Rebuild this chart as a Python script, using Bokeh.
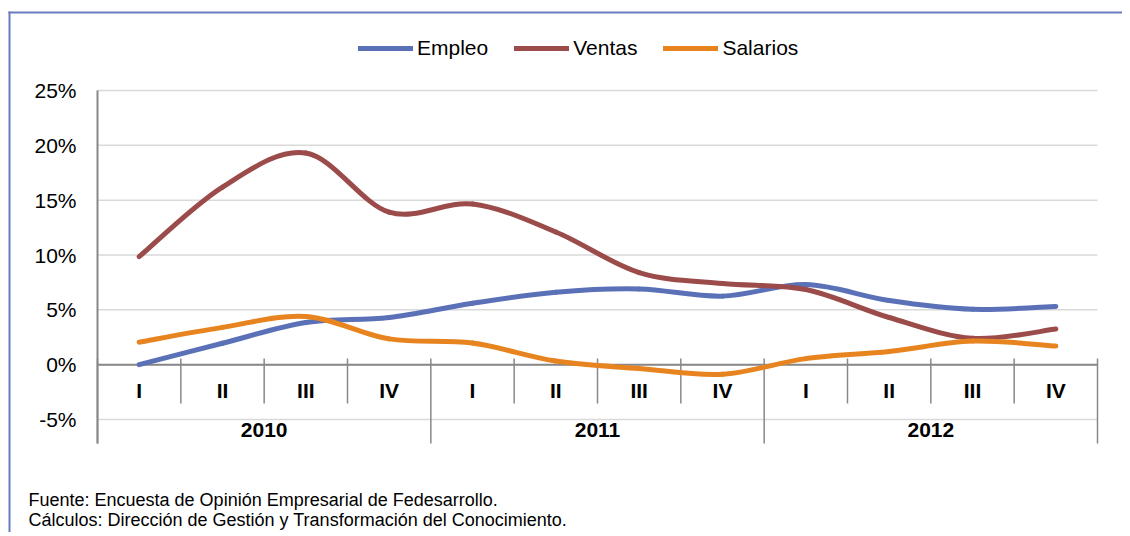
from bokeh.plotting import figure
from bokeh.models import Legend, LegendItem, BoxAnnotation
from bokeh.embed import file_html
from bokeh.resources import INLINE
from bokeh.core.properties import value

# ---- data ----
years = ["2010", "2011", "2012"]
quarters = ["I", "II", "III", "IV"]
empleo = [0.0, 1.95, 3.85, 4.3, 5.6, 6.6, 6.9, 6.25, 7.3, 5.85, 5.05, 5.3]
ventas = [9.85, 16.2, 19.3, 13.9, 14.65, 12.1, 8.4, 7.4, 6.85, 4.3, 2.4, 3.25]
salarios = [2.05, 3.4, 4.4, 2.35, 1.97, 0.33, -0.35, -0.88, 0.55, 1.2, 2.15, 1.7]
y_ticks = [-5, 0, 5, 10, 15, 20, 25]
tick_labels = [f"{t}%" for t in y_ticks]
source_lines = ["Fuente: Encuesta de Opinión Empresarial de Fedesarrollo.",
                "Cálculos: Dirección de Gestión y Transformación del Conocimiento."]

q_labels = [q for _ in years for q in quarters]
n = len(q_labels)
xs = [i + 0.5 for i in range(n)]

FONT = "Liberation Sans"
C_BLUE = "#5b71b7"
C_RED = "#9c4b4b"
C_ORANGE = "#e8841f"
C_AXIS = "#888888"
C_GRID = "#d9d9d9"
C_FRAME = "#6a7cc0"

# ---- layout (canvas pixels) ----
W, H = 1122, 532
PX_LEFT, PX_RIGHT = 97, 1097          # plot area horizontal extent
PX_TOP, PX_BOT = 90, 419              # y of top and bottom tick
sx = (PX_RIGHT - PX_LEFT) / n
sy = (PX_BOT - PX_TOP) / (max(y_ticks) - min(y_ticks))


def X(px):
    return (px - PX_LEFT) / sx


def Y(py):
    return max(y_ticks) - (py - PX_TOP) / sy


def smooth(ys):
    """Bezier control points (Catmull-Rom style, as Excel's smoothed line)."""
    d = dict(x0=[], y0=[], x1=[], y1=[], cx0=[], cy0=[], cx1=[], cy1=[])
    for i in range(n - 1):
        a = i - 1 if i > 0 else i
        b = i + 2 if i + 2 < n else i + 1
        d["x0"].append(xs[i]); d["y0"].append(ys[i])
        d["x1"].append(xs[i + 1]); d["y1"].append(ys[i + 1])
        d["cx0"].append(xs[i] + (xs[i + 1] - xs[a]) / 6)
        d["cy0"].append(ys[i] + (ys[i + 1] - ys[a]) / 6)
        d["cx1"].append(xs[i + 1] - (xs[b] - xs[i]) / 6)
        d["cy1"].append(ys[i + 1] - (ys[b] - ys[i]) / 6)
    return d


p = figure(width=W, height=H, x_range=(X(0), X(W)), y_range=(Y(H), Y(0)),
           output_backend="svg", toolbar_location=None,
           x_axis_location=None, y_axis_location=None,
           min_border_left=0, min_border_right=0, min_border_top=0, min_border_bottom=0)
p.outline_line_color = None
p.grid.visible = False

# page frame lines (canvas units)
p.add_layout(BoxAnnotation(left=8, right=10, top=11, bottom=H, left_units="canvas",
                           right_units="canvas", top_units="canvas", bottom_units="canvas",
                           fill_color=C_FRAME, fill_alpha=1, line_color=None))
p.add_layout(BoxAnnotation(left=8, right=W, top=11, bottom=13, left_units="canvas",
                           right_units="canvas", top_units="canvas", bottom_units="canvas",
                           fill_color=C_FRAME, fill_alpha=1, line_color=None))

# horizontal gridlines and value labels
p.segment(x0=[0] * len(y_ticks), x1=[n] * len(y_ticks), y0=y_ticks, y1=y_ticks,
          line_color=C_GRID, line_width=1.5)
p.text(x=[X(76)] * len(y_ticks), y=y_ticks, text=tick_labels, text_font=value(FONT),
       text_font_size="21px", text_align="right", text_baseline="middle", text_color="black")

# category axis
y_axis_bottom = Y(443)
p.segment(x0=[0], x1=[n], y0=[0], y1=[0], line_color=C_AXIS, line_width=2)
p.segment(x0=[0], x1=[0], y0=[max(y_ticks)], y1=[y_axis_bottom], line_color=C_AXIS, line_width=2)
q_bounds = [i for i in range(1, n) if i % len(quarters) != 0]
y_bounds = [i * len(quarters) for i in range(len(years) + 1)]
p.segment(x0=q_bounds, x1=q_bounds, y0=[Y(358)] * len(q_bounds), y1=[Y(403)] * len(q_bounds),
          line_color=C_AXIS, line_width=1.5)
p.segment(x0=y_bounds, x1=y_bounds, y0=[Y(358)] * len(y_bounds), y1=[y_axis_bottom] * len(y_bounds),
          line_color=C_AXIS, line_width=1.5)

p.text(x=xs, y=[-2.35] * n, text=q_labels, text_font=value(FONT), text_font_style="bold",
       text_font_size="21px", text_align="center", text_baseline="middle", text_color="black")
yc = [(y_bounds[i] + y_bounds[i + 1]) / 2 for i in range(len(years))]
p.text(x=yc, y=[-6.0] * len(years), text=years, text_font=value(FONT), text_font_style="bold",
       text_font_size="21px", text_align="center", text_baseline="middle", text_color="black")

# series
items = []
for name, ys, col in [("Empleo", empleo, C_BLUE), ("Ventas", ventas, C_RED),
                      ("Salarios", salarios, C_ORANGE)]:
    r = p.bezier(source=smooth(ys), x0="x0", y0="y0", x1="x1", y1="y1",
                 cx0="cx0", cy0="cy0", cx1="cx1", cy1="cy1",
                 line_color=col, line_width=5, line_cap="round")
    items.append(LegendItem(label=name, renderers=[r]))

legend = Legend(items=items, orientation="horizontal", location=(358, H - 60),
                glyph_width=55, glyph_height=20, label_standoff=4, spacing=26,
                label_text_font=FONT, label_text_font_size="21px", label_text_color="black",
                border_line_color=None, background_fill_alpha=0, padding=0, margin=0)
p.add_layout(legend)

# source notes
p.text(x=[X(28)] * len(source_lines), y=[Y(499), Y(519)], text=source_lines,
       text_font=value(FONT), text_font_size="18px", text_align="left",
       text_baseline="middle", text_color="black")

open("out.html", "w").write(file_html(p, INLINE))
